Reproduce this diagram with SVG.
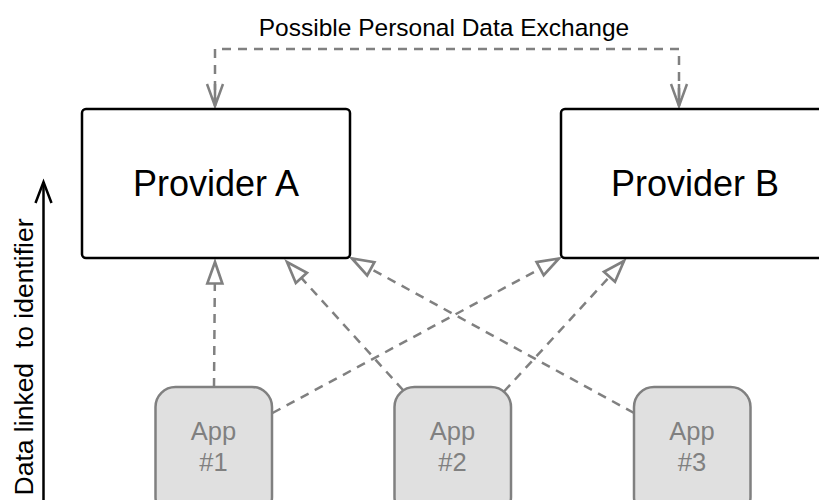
<svg xmlns="http://www.w3.org/2000/svg" width="819" height="500" viewBox="0 0 819 500">
  <style>
    .provider rect { fill: #ffffff; stroke: #000000; stroke-width: 2.5; }
    .provider text { font-family: "Liberation Sans", Arial, sans-serif; font-size: 36px; fill: #000000; text-anchor: middle; }
    .app rect { fill: #e0e0e0; stroke: #808080; stroke-width: 2.5; }
    .app text { font-family: "Liberation Sans", Arial, sans-serif; font-size: 25.5px; fill: #808080; text-anchor: middle; }
    .dash { fill: none; stroke: #808080; stroke-width: 2.5; stroke-dasharray: 9 7; }
    .label { font-family: "Liberation Sans", Arial, sans-serif; fill: #000000; }
  </style>
  <defs>
    <marker id="hollow" markerUnits="userSpaceOnUse" markerWidth="30" markerHeight="30" viewBox="-24 -12 28 24" refX="0" refY="0" orient="auto">
      <path d="M0,0 L-20,-7 L-20,7 Z" fill="#ffffff" stroke="#808080" stroke-width="2.5" stroke-linejoin="miter"/>
    </marker>
    <marker id="openGray" markerUnits="userSpaceOnUse" markerWidth="30" markerHeight="30" viewBox="-26 -12 30 24" refX="0" refY="0" orient="auto-start-reverse">
      <path d="M-22,-8 L0,0 L-22,8 M-22,0 L0,0" fill="none" stroke="#808080" stroke-width="2.5"/>
    </marker>
    <marker id="openBlack" markerUnits="userSpaceOnUse" markerWidth="30" markerHeight="30" viewBox="-26 -12 30 24" refX="0" refY="0" orient="auto">
      <path d="M-21,-8 L0,0 L-21,8" fill="none" stroke="#000000" stroke-width="2.5"/>
    </marker>
  </defs>

  <rect width="819" height="500" fill="#ffffff"/>

  <!-- exchange label -->
  <text class="label" x="444" y="36" font-size="24.5" text-anchor="middle">Possible Personal Data Exchange</text>

  <!-- vertical axis -->
  <g id="axis">
    <line x1="43.5" y1="500" x2="43.5" y2="182" stroke="#000000" stroke-width="2.5" marker-end="url(#openBlack)"/>
    <text class="label" transform="translate(33,357) rotate(-90)" font-size="26.5" text-anchor="middle" xml:space="preserve">Data linked  to identifier</text>
  </g>

  <!-- connectors -->
  <g id="connectors">
    <path class="dash" d="M215,106 L215,49 L679,49 L679,106" marker-start="url(#openGray)" marker-end="url(#openGray)"/>
    <line class="dash" x1="214" y1="387" x2="215" y2="262" marker-end="url(#hollow)"/>
    <line class="dash" x1="272.5" y1="413" x2="559" y2="258.5" marker-end="url(#hollow)"/>
    <line class="dash" x1="403" y1="390" x2="287" y2="262" marker-end="url(#hollow)"/>
    <line class="dash" x1="504" y1="391.5" x2="624" y2="261" marker-end="url(#hollow)"/>
    <line class="dash" x1="634" y1="413" x2="352" y2="258.5" marker-end="url(#hollow)"/>
  </g>

  <!-- providers -->
  <g id="providerA" class="provider">
    <rect x="82" y="109" width="268" height="149" rx="4"/>
    <text x="216" y="196">Provider A</text>
  </g>
  <g id="providerB" class="provider">
    <rect x="561" y="109" width="268" height="149" rx="4"/>
    <text x="695" y="196">Provider B</text>
  </g>

  <!-- apps -->
  <g id="app1" class="app">
    <rect x="155.5" y="387" width="116.5" height="130" rx="20"/>
    <text x="213.5" y="440">App</text>
    <text x="213.5" y="471">#1</text>
  </g>
  <g id="app2" class="app">
    <rect x="394.5" y="387" width="116.5" height="130" rx="20"/>
    <text x="452.5" y="440">App</text>
    <text x="452.5" y="471">#2</text>
  </g>
  <g id="app3" class="app">
    <rect x="634" y="387" width="116.5" height="130" rx="20"/>
    <text x="692" y="440">App</text>
    <text x="692" y="471">#3</text>
  </g>
</svg>
